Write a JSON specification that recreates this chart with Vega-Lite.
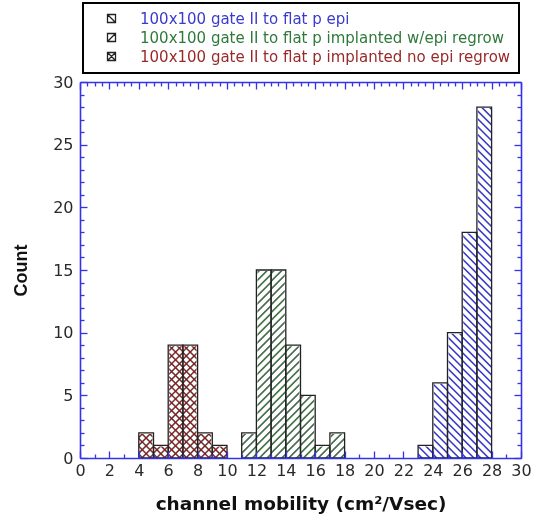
{
  "$schema": "https://vega.github.io/schema/vega-lite/v6.json",
  "width": 441,
  "height": 376,
  "autosize": "none",
  "padding": {"left": 80, "top": 82, "right": 19, "bottom": 65},
  "background": "white",
  "data": {
    "values": [
      {"series": "100x100 gate II to flat p implanted no epi regrow", "bin_start": 4, "bin_end": 5, "count": 2},
      {"series": "100x100 gate II to flat p implanted no epi regrow", "bin_start": 5, "bin_end": 6, "count": 1},
      {"series": "100x100 gate II to flat p implanted no epi regrow", "bin_start": 6, "bin_end": 7, "count": 9},
      {"series": "100x100 gate II to flat p implanted no epi regrow", "bin_start": 7, "bin_end": 8, "count": 9},
      {"series": "100x100 gate II to flat p implanted no epi regrow", "bin_start": 8, "bin_end": 9, "count": 2},
      {"series": "100x100 gate II to flat p implanted no epi regrow", "bin_start": 9, "bin_end": 10, "count": 1},
      {"series": "100x100 gate II to flat p implanted w/epi regrow", "bin_start": 11, "bin_end": 12, "count": 2},
      {"series": "100x100 gate II to flat p implanted w/epi regrow", "bin_start": 12, "bin_end": 13, "count": 15},
      {"series": "100x100 gate II to flat p implanted w/epi regrow", "bin_start": 13, "bin_end": 14, "count": 15},
      {"series": "100x100 gate II to flat p implanted w/epi regrow", "bin_start": 14, "bin_end": 15, "count": 9},
      {"series": "100x100 gate II to flat p implanted w/epi regrow", "bin_start": 15, "bin_end": 16, "count": 5},
      {"series": "100x100 gate II to flat p implanted w/epi regrow", "bin_start": 16, "bin_end": 17, "count": 1},
      {"series": "100x100 gate II to flat p implanted w/epi regrow", "bin_start": 17, "bin_end": 18, "count": 2},
      {"series": "100x100 gate II to flat p epi", "bin_start": 23, "bin_end": 24, "count": 1},
      {"series": "100x100 gate II to flat p epi", "bin_start": 24, "bin_end": 25, "count": 6},
      {"series": "100x100 gate II to flat p epi", "bin_start": 25, "bin_end": 26, "count": 10},
      {"series": "100x100 gate II to flat p epi", "bin_start": 26, "bin_end": 27, "count": 18},
      {"series": "100x100 gate II to flat p epi", "bin_start": 27, "bin_end": 28, "count": 28}
    ]
  },
  "layer": [
    {
      "transform": [{"filter": {"field": "series", "oneOf": ["100x100 gate II to flat p epi", "100x100 gate II to flat p implanted no epi regrow"]}}],
      "mark": {
        "type": "rect",
        "strokeWidth": 0,
        "fill": {"gradient": "linear", "x1": 0, "y1": 1, "x2": 0.04056, "y2": -0.0375, "stops": [
          {"offset":0.0055,"color":"#0000"},{"offset":0.01,"color":"#000"},{"offset":0.0145,"color":"#0000"},
          {"offset":0.0255,"color":"#0000"},{"offset":0.03,"color":"#000"},{"offset":0.0345,"color":"#0000"},
          {"offset":0.0455,"color":"#0000"},{"offset":0.05,"color":"#000"},{"offset":0.0545,"color":"#0000"},
          {"offset":0.0655,"color":"#0000"},{"offset":0.07,"color":"#000"},{"offset":0.0745,"color":"#0000"},
          {"offset":0.0855,"color":"#0000"},{"offset":0.09,"color":"#000"},{"offset":0.0945,"color":"#0000"},
          {"offset":0.1055,"color":"#0000"},{"offset":0.11,"color":"#000"},{"offset":0.1145,"color":"#0000"},
          {"offset":0.1255,"color":"#0000"},{"offset":0.13,"color":"#000"},{"offset":0.1345,"color":"#0000"},
          {"offset":0.1455,"color":"#0000"},{"offset":0.15,"color":"#000"},{"offset":0.1545,"color":"#0000"},
          {"offset":0.1655,"color":"#0000"},{"offset":0.17,"color":"#000"},{"offset":0.1745,"color":"#0000"},
          {"offset":0.1855,"color":"#0000"},{"offset":0.19,"color":"#000"},{"offset":0.1945,"color":"#0000"},
          {"offset":0.2055,"color":"#0000"},{"offset":0.21,"color":"#000"},{"offset":0.2145,"color":"#0000"},
          {"offset":0.2255,"color":"#0000"},{"offset":0.23,"color":"#000"},{"offset":0.2345,"color":"#0000"},
          {"offset":0.2455,"color":"#0000"},{"offset":0.25,"color":"#000"},{"offset":0.2545,"color":"#0000"},
          {"offset":0.2655,"color":"#0000"},{"offset":0.27,"color":"#000"},{"offset":0.2745,"color":"#0000"},
          {"offset":0.2855,"color":"#0000"},{"offset":0.29,"color":"#000"},{"offset":0.2945,"color":"#0000"},
          {"offset":0.3055,"color":"#0000"},{"offset":0.31,"color":"#000"},{"offset":0.3145,"color":"#0000"},
          {"offset":0.3255,"color":"#0000"},{"offset":0.33,"color":"#000"},{"offset":0.3345,"color":"#0000"},
          {"offset":0.3455,"color":"#0000"},{"offset":0.35,"color":"#000"},{"offset":0.3545,"color":"#0000"},
          {"offset":0.3655,"color":"#0000"},{"offset":0.37,"color":"#000"},{"offset":0.3745,"color":"#0000"},
          {"offset":0.3855,"color":"#0000"},{"offset":0.39,"color":"#000"},{"offset":0.3945,"color":"#0000"},
          {"offset":0.4055,"color":"#0000"},{"offset":0.41,"color":"#000"},{"offset":0.4145,"color":"#0000"},
          {"offset":0.4255,"color":"#0000"},{"offset":0.43,"color":"#000"},{"offset":0.4345,"color":"#0000"},
          {"offset":0.4455,"color":"#0000"},{"offset":0.45,"color":"#000"},{"offset":0.4545,"color":"#0000"},
          {"offset":0.4655,"color":"#0000"},{"offset":0.47,"color":"#000"},{"offset":0.4745,"color":"#0000"},
          {"offset":0.4855,"color":"#0000"},{"offset":0.49,"color":"#000"},{"offset":0.4945,"color":"#0000"},
          {"offset":0.5055,"color":"#0000"},{"offset":0.51,"color":"#000"},{"offset":0.5145,"color":"#0000"},
          {"offset":0.5255,"color":"#0000"},{"offset":0.53,"color":"#000"},{"offset":0.5345,"color":"#0000"},
          {"offset":0.5455,"color":"#0000"},{"offset":0.55,"color":"#000"},{"offset":0.5545,"color":"#0000"},
          {"offset":0.5655,"color":"#0000"},{"offset":0.57,"color":"#000"},{"offset":0.5745,"color":"#0000"},
          {"offset":0.5855,"color":"#0000"},{"offset":0.59,"color":"#000"},{"offset":0.5945,"color":"#0000"},
          {"offset":0.6055,"color":"#0000"},{"offset":0.61,"color":"#000"},{"offset":0.6145,"color":"#0000"},
          {"offset":0.6255,"color":"#0000"},{"offset":0.63,"color":"#000"},{"offset":0.6345,"color":"#0000"},
          {"offset":0.6455,"color":"#0000"},{"offset":0.65,"color":"#000"},{"offset":0.6545,"color":"#0000"},
          {"offset":0.6655,"color":"#0000"},{"offset":0.67,"color":"#000"},{"offset":0.6745,"color":"#0000"},
          {"offset":0.6855,"color":"#0000"},{"offset":0.69,"color":"#000"},{"offset":0.6945,"color":"#0000"},
          {"offset":0.7055,"color":"#0000"},{"offset":0.71,"color":"#000"},{"offset":0.7145,"color":"#0000"},
          {"offset":0.7255,"color":"#0000"},{"offset":0.73,"color":"#000"},{"offset":0.7345,"color":"#0000"},
          {"offset":0.7455,"color":"#0000"},{"offset":0.75,"color":"#000"},{"offset":0.7545,"color":"#0000"},
          {"offset":0.7655,"color":"#0000"},{"offset":0.77,"color":"#000"},{"offset":0.7745,"color":"#0000"},
          {"offset":0.7855,"color":"#0000"},{"offset":0.79,"color":"#000"},{"offset":0.7945,"color":"#0000"},
          {"offset":0.8055,"color":"#0000"},{"offset":0.81,"color":"#000"},{"offset":0.8145,"color":"#0000"},
          {"offset":0.8255,"color":"#0000"},{"offset":0.83,"color":"#000"},{"offset":0.8345,"color":"#0000"},
          {"offset":0.8455,"color":"#0000"},{"offset":0.85,"color":"#000"},{"offset":0.8545,"color":"#0000"},
          {"offset":0.8655,"color":"#0000"},{"offset":0.87,"color":"#000"},{"offset":0.8745,"color":"#0000"},
          {"offset":0.8855,"color":"#0000"},{"offset":0.89,"color":"#000"},{"offset":0.8945,"color":"#0000"},
          {"offset":0.9055,"color":"#0000"},{"offset":0.91,"color":"#000"},{"offset":0.9145,"color":"#0000"},
          {"offset":0.9255,"color":"#0000"},{"offset":0.93,"color":"#000"},{"offset":0.9345,"color":"#0000"},
          {"offset":0.9455,"color":"#0000"},{"offset":0.95,"color":"#000"},{"offset":0.9545,"color":"#0000"},
          {"offset":0.9655,"color":"#0000"},{"offset":0.97,"color":"#000"},{"offset":0.9745,"color":"#0000"},
          {"offset":0.9855,"color":"#0000"},{"offset":0.99,"color":"#000"},{"offset":0.9945,"color":"#0000"}
        ]}
      },
      "encoding": {
        "x": {
          "field": "bin_start", "type": "quantitative",
          "scale": {"domain": [0, 30], "nice": false, "zero": false},
          "axis": {
            "orient": "bottom",
            "title": "channel mobility (cm²/Vsec)",
            "values": [0,0.5,1,1.5,2,2.5,3,3.5,4,4.5,5,5.5,6,6.5,7,7.5,8,8.5,9,9.5,10,10.5,11,11.5,12,12.5,13,13.5,14,14.5,15,15.5,16,16.5,17,17.5,18,18.5,19,19.5,20,20.5,21,21.5,22,22.5,23,23.5,24,24.5,25,25.5,26,26.5,27,27.5,28,28.5,29,29.5,30],
            "format": "d",
            "labelExpr": "datum.value % 2 === 0 ? datum.label : ''",
            "tickSize": {"condition": {"test": "datum.value % 2 === 0", "value": -7}, "value": -4},
            "labelPadding": 11,
            "titlePadding": 13,
            "zindex": 1
          }
        },
        "x2": {"field": "bin_end"},
        "y": {
          "datum": 30, "type": "quantitative",
          "scale": {"domain": [0, 30], "nice": false, "zero": false},
          "axis": {
            "orient": "left",
            "title": "Count",
            "titleFont": "Liberation Sans",
            "titleFontSize": 18,
            "values": [0,1,2,3,4,5,6,7,8,9,10,11,12,13,14,15,16,17,18,19,20,21,22,23,24,25,26,27,28,29,30],
            "labelExpr": "datum.value % 5 === 0 ? datum.label : ''",
            "tickSize": {"condition": {"test": "datum.value % 5 === 0", "value": -7}, "value": -4},
            "labelPadding": 14,
            "titlePadding": 22,
            "zindex": 1
          }
        },
        "y2": {"datum": 0}
      }
    },
    {
      "transform": [{"filter": {"field": "series", "oneOf": ["100x100 gate II to flat p implanted w/epi regrow", "100x100 gate II to flat p implanted no epi regrow"]}}],
      "mark": {
        "type": "rect",
        "strokeWidth": 0,
        "fill": {"gradient": "linear", "x1": 0, "y1": 0, "x2": 0.04056, "y2": 1.0375, "stops": [
          {"offset":0.0055,"color":"#0000"},{"offset":0.01,"color":"#000"},{"offset":0.0145,"color":"#0000"},
          {"offset":0.0255,"color":"#0000"},{"offset":0.03,"color":"#000"},{"offset":0.0345,"color":"#0000"},
          {"offset":0.0455,"color":"#0000"},{"offset":0.05,"color":"#000"},{"offset":0.0545,"color":"#0000"},
          {"offset":0.0655,"color":"#0000"},{"offset":0.07,"color":"#000"},{"offset":0.0745,"color":"#0000"},
          {"offset":0.0855,"color":"#0000"},{"offset":0.09,"color":"#000"},{"offset":0.0945,"color":"#0000"},
          {"offset":0.1055,"color":"#0000"},{"offset":0.11,"color":"#000"},{"offset":0.1145,"color":"#0000"},
          {"offset":0.1255,"color":"#0000"},{"offset":0.13,"color":"#000"},{"offset":0.1345,"color":"#0000"},
          {"offset":0.1455,"color":"#0000"},{"offset":0.15,"color":"#000"},{"offset":0.1545,"color":"#0000"},
          {"offset":0.1655,"color":"#0000"},{"offset":0.17,"color":"#000"},{"offset":0.1745,"color":"#0000"},
          {"offset":0.1855,"color":"#0000"},{"offset":0.19,"color":"#000"},{"offset":0.1945,"color":"#0000"},
          {"offset":0.2055,"color":"#0000"},{"offset":0.21,"color":"#000"},{"offset":0.2145,"color":"#0000"},
          {"offset":0.2255,"color":"#0000"},{"offset":0.23,"color":"#000"},{"offset":0.2345,"color":"#0000"},
          {"offset":0.2455,"color":"#0000"},{"offset":0.25,"color":"#000"},{"offset":0.2545,"color":"#0000"},
          {"offset":0.2655,"color":"#0000"},{"offset":0.27,"color":"#000"},{"offset":0.2745,"color":"#0000"},
          {"offset":0.2855,"color":"#0000"},{"offset":0.29,"color":"#000"},{"offset":0.2945,"color":"#0000"},
          {"offset":0.3055,"color":"#0000"},{"offset":0.31,"color":"#000"},{"offset":0.3145,"color":"#0000"},
          {"offset":0.3255,"color":"#0000"},{"offset":0.33,"color":"#000"},{"offset":0.3345,"color":"#0000"},
          {"offset":0.3455,"color":"#0000"},{"offset":0.35,"color":"#000"},{"offset":0.3545,"color":"#0000"},
          {"offset":0.3655,"color":"#0000"},{"offset":0.37,"color":"#000"},{"offset":0.3745,"color":"#0000"},
          {"offset":0.3855,"color":"#0000"},{"offset":0.39,"color":"#000"},{"offset":0.3945,"color":"#0000"},
          {"offset":0.4055,"color":"#0000"},{"offset":0.41,"color":"#000"},{"offset":0.4145,"color":"#0000"},
          {"offset":0.4255,"color":"#0000"},{"offset":0.43,"color":"#000"},{"offset":0.4345,"color":"#0000"},
          {"offset":0.4455,"color":"#0000"},{"offset":0.45,"color":"#000"},{"offset":0.4545,"color":"#0000"},
          {"offset":0.4655,"color":"#0000"},{"offset":0.47,"color":"#000"},{"offset":0.4745,"color":"#0000"},
          {"offset":0.4855,"color":"#0000"},{"offset":0.49,"color":"#000"},{"offset":0.4945,"color":"#0000"},
          {"offset":0.5055,"color":"#0000"},{"offset":0.51,"color":"#000"},{"offset":0.5145,"color":"#0000"},
          {"offset":0.5255,"color":"#0000"},{"offset":0.53,"color":"#000"},{"offset":0.5345,"color":"#0000"},
          {"offset":0.5455,"color":"#0000"},{"offset":0.55,"color":"#000"},{"offset":0.5545,"color":"#0000"},
          {"offset":0.5655,"color":"#0000"},{"offset":0.57,"color":"#000"},{"offset":0.5745,"color":"#0000"},
          {"offset":0.5855,"color":"#0000"},{"offset":0.59,"color":"#000"},{"offset":0.5945,"color":"#0000"},
          {"offset":0.6055,"color":"#0000"},{"offset":0.61,"color":"#000"},{"offset":0.6145,"color":"#0000"},
          {"offset":0.6255,"color":"#0000"},{"offset":0.63,"color":"#000"},{"offset":0.6345,"color":"#0000"},
          {"offset":0.6455,"color":"#0000"},{"offset":0.65,"color":"#000"},{"offset":0.6545,"color":"#0000"},
          {"offset":0.6655,"color":"#0000"},{"offset":0.67,"color":"#000"},{"offset":0.6745,"color":"#0000"},
          {"offset":0.6855,"color":"#0000"},{"offset":0.69,"color":"#000"},{"offset":0.6945,"color":"#0000"},
          {"offset":0.7055,"color":"#0000"},{"offset":0.71,"color":"#000"},{"offset":0.7145,"color":"#0000"},
          {"offset":0.7255,"color":"#0000"},{"offset":0.73,"color":"#000"},{"offset":0.7345,"color":"#0000"},
          {"offset":0.7455,"color":"#0000"},{"offset":0.75,"color":"#000"},{"offset":0.7545,"color":"#0000"},
          {"offset":0.7655,"color":"#0000"},{"offset":0.77,"color":"#000"},{"offset":0.7745,"color":"#0000"},
          {"offset":0.7855,"color":"#0000"},{"offset":0.79,"color":"#000"},{"offset":0.7945,"color":"#0000"},
          {"offset":0.8055,"color":"#0000"},{"offset":0.81,"color":"#000"},{"offset":0.8145,"color":"#0000"},
          {"offset":0.8255,"color":"#0000"},{"offset":0.83,"color":"#000"},{"offset":0.8345,"color":"#0000"},
          {"offset":0.8455,"color":"#0000"},{"offset":0.85,"color":"#000"},{"offset":0.8545,"color":"#0000"},
          {"offset":0.8655,"color":"#0000"},{"offset":0.87,"color":"#000"},{"offset":0.8745,"color":"#0000"},
          {"offset":0.8855,"color":"#0000"},{"offset":0.89,"color":"#000"},{"offset":0.8945,"color":"#0000"},
          {"offset":0.9055,"color":"#0000"},{"offset":0.91,"color":"#000"},{"offset":0.9145,"color":"#0000"},
          {"offset":0.9255,"color":"#0000"},{"offset":0.93,"color":"#000"},{"offset":0.9345,"color":"#0000"},
          {"offset":0.9455,"color":"#0000"},{"offset":0.95,"color":"#000"},{"offset":0.9545,"color":"#0000"},
          {"offset":0.9655,"color":"#0000"},{"offset":0.97,"color":"#000"},{"offset":0.9745,"color":"#0000"},
          {"offset":0.9855,"color":"#0000"},{"offset":0.99,"color":"#000"},{"offset":0.9945,"color":"#0000"}
        ]}
      },
      "encoding": {
        "x": {"field": "bin_start", "type": "quantitative", "axis": null},
        "x2": {"field": "bin_end"},
        "y": {"datum": 30, "type": "quantitative", "axis": null},
        "y2": {"datum": 0}
      }
    },
    {
      "mark": {"type": "rect", "blend": "lighten", "strokeWidth": 0},
      "encoding": {
        "x": {"field": "bin_start", "type": "quantitative", "axis": null},
        "x2": {"field": "bin_end"},
        "y": {"datum": 30, "type": "quantitative", "axis": null},
        "y2": {"datum": 0},
        "fill": {
          "condition": [
            {"test": "datum.series === '100x100 gate II to flat p epi'", "value": "#3434d8"},
            {"test": "datum.series === '100x100 gate II to flat p implanted w/epi regrow'", "value": "#2f7d40"}
          ],
          "value": "#8e1b1b"
        }
      }
    },
    {
      "mark": {"type": "rect", "fill": "white", "stroke": "white", "strokeWidth": 2},
      "encoding": {
        "x": {"field": "bin_start", "type": "quantitative", "axis": null},
        "x2": {"field": "bin_end"},
        "y": {"field": "count", "type": "quantitative", "axis": null},
        "y2": {"datum": 30}
      }
    },
    {
      "mark": {"type": "rect", "filled": false, "stroke": "#222222", "strokeWidth": 1.3},
      "encoding": {
        "x": {
          "field": "bin_start", "type": "quantitative",
          "axis": {
            "orient": "top",
            "title": null,
            "labels": false,
            "values": [0,0.5,1,1.5,2,2.5,3,3.5,4,4.5,5,5.5,6,6.5,7,7.5,8,8.5,9,9.5,10,10.5,11,11.5,12,12.5,13,13.5,14,14.5,15,15.5,16,16.5,17,17.5,18,18.5,19,19.5,20,20.5,21,21.5,22,22.5,23,23.5,24,24.5,25,25.5,26,26.5,27,27.5,28,28.5,29,29.5,30],
            "tickSize": {"condition": {"test": "datum.value % 2 === 0", "value": -7}, "value": -4},
            "zindex": 1
          }
        },
        "x2": {"field": "bin_end"},
        "y": {
          "field": "count", "type": "quantitative",
          "axis": {
            "orient": "right",
            "title": null,
            "labels": false,
            "values": [0,1,2,3,4,5,6,7,8,9,10,11,12,13,14,15,16,17,18,19,20,21,22,23,24,25,26,27,28,29,30],
            "tickSize": {"condition": {"test": "datum.value % 5 === 0", "value": -7}, "value": -4},
            "zindex": 1
          }
        },
        "y2": {"datum": 0}
      }
    },
    {
      "mark": {"type": "point", "opacity": 0},
      "encoding": {
        "x": {"field": "bin_start", "type": "quantitative", "axis": null},
        "y": {"field": "count", "type": "quantitative", "axis": null},
        "shape": {
          "field": "series", "type": "nominal",
          "scale": {
            "domain": ["100x100 gate II to flat p epi", "100x100 gate II to flat p implanted w/epi regrow", "100x100 gate II to flat p implanted no epi regrow"],
            "range": ["M-1,-1H1V1H-1Z M-1,-1L1,1", "M-1,-1H1V1H-1Z M-1,1L1,-1", "M-1,-1H1V1H-1Z M-1,-1L1,1 M-1,1L1,-1"]
          },
          "legend": {
            "orient": "none", "legendX": 3, "legendY": -79, "direction": "vertical", "title": null,
            "padding": 8, "symbolOffset": 13, "labelOffset": 21, "rowPadding": 3,
            "labelFont": "DejaVu Sans", "labelFontSize": 15, "labelLimit": 500, "symbolSize": 64,
            "symbolStrokeColor": "#222222", "symbolFillColor": "white", "symbolOpacity": 1, "symbolStrokeWidth": 1.3,
            "labelColor": {"expr": "datum.value === '100x100 gate II to flat p epi' ? '#3a3acc' : datum.value === '100x100 gate II to flat p implanted w/epi regrow' ? '#2f7a3a' : '#992a2a'"},
            "strokeColor": "#000000", "fillColor": "white"
          }
        }
      }
    }
  ],
  "resolve": {"axis": {"x": "independent", "y": "independent"}},
  "config": {
    "view": {"stroke": null, "fill": "white"},
    "legend": {"strokeWidth": 2},
    "axis": {
      "grid": false,
      "domainColor": "#3434e6",
      "domainWidth": 1.6,
      "tickColor": "#3434e6",
      "tickWidth": 1.3,
      "labelFont": "DejaVu Sans",
      "labelFontSize": 16,
      "labelColor": "#2a2a2a",
      "labelOverlap": false,
      "labelFlush": false,
      "titleFont": "DejaVu Sans",
      "titleFontWeight": "bold",
      "titleFontSize": 18.5,
      "titleColor": "#111111"
    }
  }
}
